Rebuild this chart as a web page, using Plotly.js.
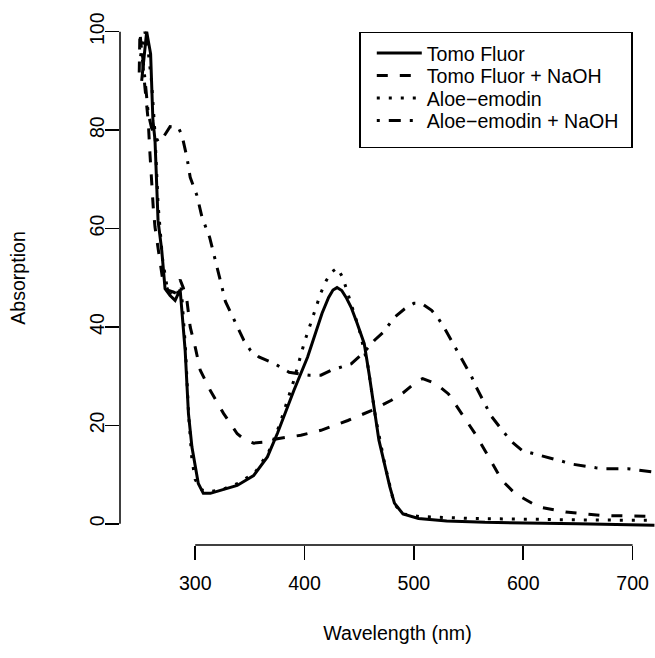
<!DOCTYPE html>
<html>
<head>
<meta charset="utf-8">
<script src="https://cdn.plot.ly/plotly-3.0.1.min.js"></script>
<style>
html, body { margin: 0; padding: 0; overflow: hidden; background: #fff; }
#chart { width: 690px; height: 658px; }
</style>
</head>
<body>
<div id="chart"></div>
<script>
// ---- data ----
var tomoX = [251, 255.6, 259.2, 261.3, 263.2, 264.8, 266, 269.4, 272.4, 277, 281.6, 286.2, 290.8, 293.8, 297, 302.8, 307.4, 313.8, 323, 338.4, 353.4, 366, 375.2, 390.2, 402.8, 410.4, 416, 422, 426, 429.7, 434, 438, 442.6, 448, 454.6, 459, 463.8, 468, 473, 478, 482.2, 490, 504.2, 530, 565, 600, 650, 720];
var tomoY = [90, 100, 95.5, 82, 78, 65.7, 61.6, 55.5, 47.8, 46.4, 45.4, 47.6, 35.2, 22.4, 15.6, 8.2, 6.2, 6.2, 6.8, 7.8, 9.8, 13.6, 18.4, 27.1, 33.9, 39.3, 42.8, 46, 47.5, 48, 47.4, 46, 44, 40.8, 36.6, 30.5, 23, 17, 12.3, 7.5, 4.2, 2, 1.1, 0.6, 0.3, 0.2, 0, -0.3];

var tomoNaohX = [248.8, 249.4, 254, 257, 258.6, 260.2, 261.6, 263.2, 266.2, 270, 275, 281, 286.2, 289, 292.4, 295.4, 300, 304.6, 313.8, 326, 338.4, 346, 353.6, 362.8, 375.2, 396.6, 415, 439.6, 461, 479.4, 490, 497.8, 503, 508, 513.2, 520, 531.6, 543.8, 556, 568.4, 580.6, 592.8, 614.4, 638.8, 672.6, 720];
var tomoNaohY = [91.7, 100, 88.7, 81.9, 75.2, 68.4, 64.3, 60.3, 55.5, 50, 47.5, 47, 49.6, 48, 45.4, 40, 35.9, 31.2, 27.1, 22.4, 18.3, 17, 16.4, 16.6, 17.3, 18, 19, 21, 23, 25.1, 26.6, 28.1, 29, 29.5, 29.1, 28.5, 26.4, 22.4, 18.3, 13.6, 8.8, 6.1, 3.4, 2.4, 1.7, 1.5];

var aloeX = [250, 254, 257, 260, 263, 266, 270, 275, 282, 287, 291, 294, 297, 300, 305, 312, 325, 340, 355, 367, 377, 390, 400, 410, 415, 420, 425, 430, 435, 440, 445, 450, 458, 465, 473, 482, 490, 505, 550, 600, 650, 720];
var aloeY = [95, 100, 96, 90, 80, 65, 54, 47, 46, 48.5, 36, 22, 13, 9, 7, 6.5, 7, 8.3, 10.5, 14.5, 20, 29, 37, 44, 47, 49.5, 51.2, 52, 50, 46.5, 43, 39.5, 32, 21.5, 12.5, 4, 2, 1.5, 1.1, 0.9, 0.8, 0.7];

var aloeNaohX = [250, 252.4, 255.6, 257, 260, 263.2, 266, 270.6, 277, 284.4, 287.8, 292.4, 295.4, 301.6, 306.2, 313.2, 318.4, 323, 327.6, 336.8, 344.4, 350.6, 358.2, 369, 375.2, 385.8, 396.6, 404.2, 415, 424.2, 442.6, 455, 464, 471.8, 482.4, 491.6, 500, 507, 516.2, 522.4, 528.4, 537.6, 542.3, 553, 556.7, 565.2, 570.7, 582.2, 589.8, 599, 615.8, 635.8, 645.6, 666.4, 675.7, 695.6, 706.3, 717, 720];
var aloeNaohY = [98, 94.1, 86.7, 83.4, 80.5, 79, 77.7, 78.5, 80.7, 80.6, 79, 74.5, 70.4, 66.7, 62.3, 58.2, 53.8, 49.4, 45.2, 41, 37.3, 35.2, 33.9, 32.9, 32.2, 30.8, 30.5, 30.2, 30.2, 31.2, 32.5, 35, 37.3, 38.9, 42, 43.7, 44.8, 44.8, 43.4, 41.7, 39.6, 35.9, 33.9, 29.8, 27.9, 24.1, 21.9, 18.6, 16.6, 14.9, 13.9, 12.7, 12.1, 11.4, 11.2, 11.2, 10.9, 10.5, 10.5];

var seriesNames = ["Tomo Fluor", "Tomo Fluor + NaOH", "Aloe\u2212emodin", "Aloe\u2212emodin + NaOH"];
var xTickVals = [300, 400, 500, 600, 700];
var yTickVals = [0, 20, 40, 60, 80, 100];

// ---- styling ----
var FONT = "Liberation Sans, Arial, Helvetica, sans-serif";
var FS = 19.6;
var dashes = ["solid", "11px,12px", "3px,9px", "3px,9px,12px,9px"];
var xs = [tomoX, tomoNaohX, aloeX, aloeNaohX];
var ys = [tomoY, tomoNaohY, aloeY, aloeNaohY];

var traces = seriesNames.map(function (n, i) {
  return {
    x: xs[i], y: ys[i], name: n, type: "scatter", mode: "lines",
    line: { color: "#000", width: 3, dash: dashes[i] }
  };
});

var layout = {
  width: 690, height: 658,
  margin: { l: 120, r: 15, t: 11, b: 113, pad: 0 },
  paper_bgcolor: "#fff", plot_bgcolor: "#fff",
  font: { family: FONT, size: FS, color: "#000" },
  showlegend: true,
  legend: {
    x: 0.4315, y: 0.9607, xanchor: "left", yanchor: "top",
    bordercolor: "#000", borderwidth: 1.3, bgcolor: "#fff",
    itemwidth: 45,
    font: { family: FONT, size: FS, color: "#000" },
    tracegroupgap: 0
  },
  xaxis: {
    range: [231.2, 738.8], showgrid: false, zeroline: false, showline: false,
    tickmode: "array", tickvals: xTickVals, ticktext: xTickVals.map(String),
    ticks: "outside", ticklen: 14, tickwidth: 1.5, tickcolor: "#000",
    ticklabelstandoff: 6,
    tickfont: { family: FONT, size: FS, color: "#000" },
    title: { text: "Wavelength (nm)", font: { family: FONT, size: FS, color: "#000" }, standoff: 33 },
    automargin: false
  },
  yaxis: {
    range: [-4.3, 104.2], showgrid: false, zeroline: false, showline: false,
    tickmode: "array", tickvals: yTickVals, ticktext: yTickVals.map(String),
    ticks: "outside", ticklen: 14, tickwidth: 1.5, tickcolor: "#000",
    tickangle: -90, ticklabelstandoff: -7,
    tickfont: { family: FONT, size: FS, color: "#000" },
    title: { text: "Absorption", font: { family: FONT, size: FS, color: "#000" }, standoff: 55 },
    automargin: false
  },
  shapes: [
    { type: "line", xref: "x", yref: "paper", x0: xTickVals[0], x1: xTickVals[xTickVals.length - 1], y0: 0, y1: 0, line: { color: "#000", width: 1.5 } },
    { type: "line", xref: "paper", yref: "y", x0: 0, x1: 0, y0: yTickVals[0], y1: yTickVals[yTickVals.length - 1], line: { color: "#000", width: 1.5 } }
  ]
};

var gd = document.getElementById("chart");
Plotly.newPlot(gd, traces, layout, { displayModeBar: false, staticPlot: true }).then(function () {
  // tighten legend rows to the reference spacing and widen the box
  var leg = gd.querySelector(".legend");
  if (!leg) return;
  var items = leg.querySelectorAll("g.traces");
  items.forEach(function (g, i) {
    var t = g.getAttribute("transform") || "";
    var m = /translate\(\s*([-\d.]+)[ ,]+([-\d.]+)\s*\)/.exec(t);
    var x0 = m ? parseFloat(m[1]) : 0;
    g.setAttribute("transform", "translate(" + (x0 + 11) + "," + (21 + i * 22.5) + ")");
  });
  var bg = leg.querySelector("rect.bg");
  if (bg) { bg.setAttribute("width", 272); bg.setAttribute("height", 115); }
  var sb = leg.querySelector(".scrollbox");
  if (sb) sb.removeAttribute("clip-path");
});
</script>
</body>
</html>
